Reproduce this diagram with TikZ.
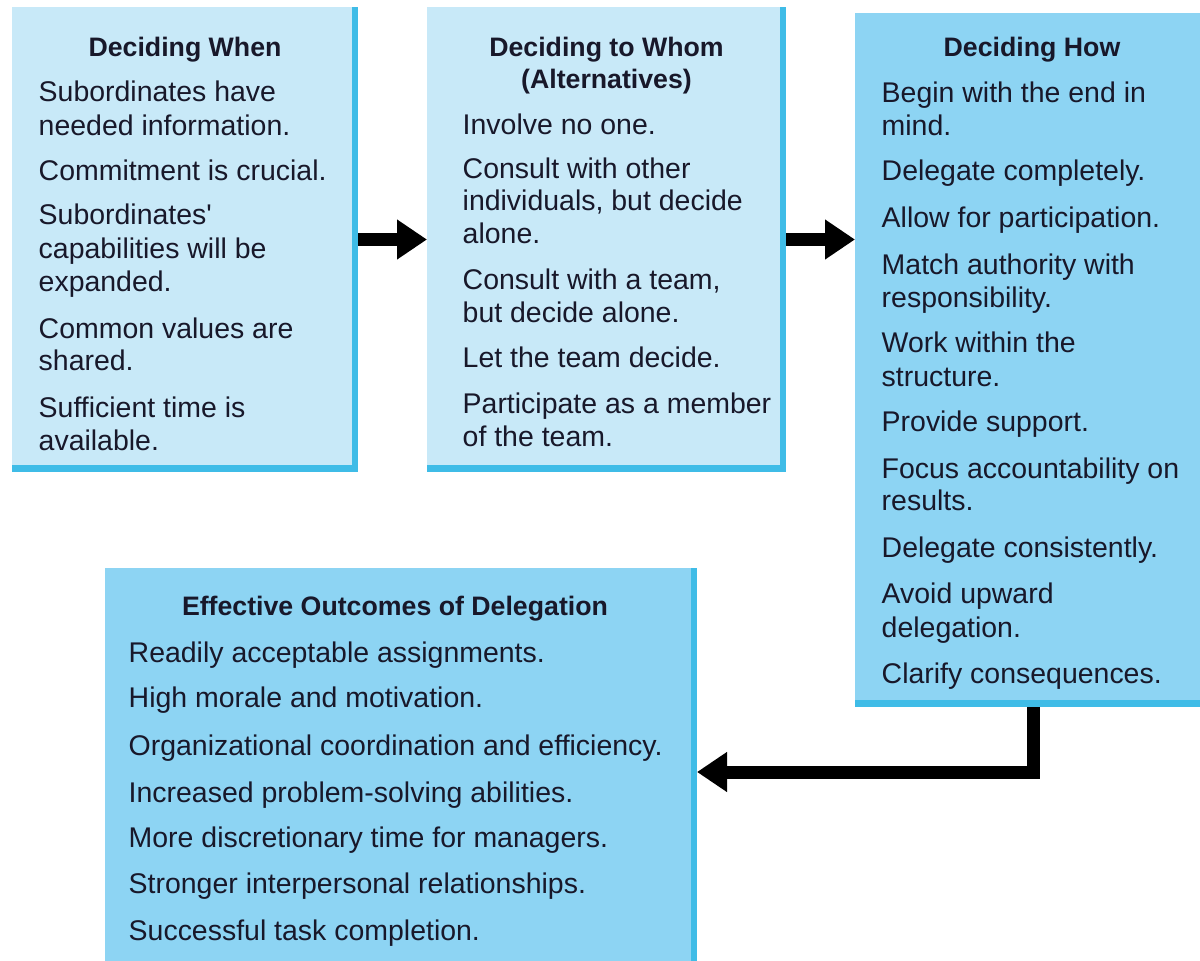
\documentclass[tikz,border=0pt]{standalone}
\usepackage{fontspec}
\setmainfont{Liberation Sans}
\usetikzlibrary{arrows.meta}

\definecolor{palefill}{HTML}{C8E9F8}
\definecolor{deepfill}{HTML}{8DD4F3}
\definecolor{rimblue}{HTML}{3FBCE7}
\definecolor{inktext}{HTML}{18182A}

\tikzset{
    box/.style={fill=rimblue, inner sep=0pt, outer sep=0pt, anchor=north west},
    head/.style={font=\fontsize{7.6}{9}\selectfont\bfseries, text=inktext, anchor=base, inner sep=0pt},
    item/.style={font=\fontsize{8.1}{9.7}\selectfont, text=inktext, anchor=base west, inner sep=0pt},
    flow/.style={line width=0.13cm, -{Triangle[length=0.3cm,width=0.38cm]}}
}

\begin{document}
\begin{tikzpicture}
    \useasboundingbox (0,0) rectangle (12,9.6);
    \clip (0,0) rectangle (12,9.6);

    % Deciding When
    \node[box, minimum width=3.46cm, minimum height=4.65cm] (when) at (0.12, 9.53) {};
    \fill[palefill] (when.north west) rectangle ([shift={(-0.06,0.07)}]when.south east);
    \node[head] (whenhead) at (1.85, 9.04) {Deciding When};
    \foreach \y/\txt [count=\n] in {8.59/Subordinates have, 8.25/needed information., 7.80/Commitment is crucial.,
            7.36/Subordinates\textquotesingle, 7.02/capabilities will be, 6.69/expanded.,
            6.22/Common values are, 5.90/shared., 5.43/Sufficient time is, 5.10/available.} {
        \node[item] (when\n) at (0.38, \y) {\txt};
    }

    % Deciding to Whom
    \node[box, minimum width=3.59cm, minimum height=4.65cm] (whom) at (4.27, 9.53) {};
    \fill[palefill] (whom.north west) rectangle ([shift={(-0.06,0.07)}]whom.south east);
    \node[head] (whomhead) at (6.065, 9.04) {Deciding to Whom};
    \node[head] (whomsub) at (6.065, 8.72) {(Alternatives)};
    \foreach \y/\txt [count=\n] in {8.26/Involve no one., 7.82/Consult with other, 7.50/{individuals, but decide},
            7.17/alone., 6.71/{Consult with a team,}, 6.38/but decide alone., 5.93/Let the team decide.,
            5.47/Participate as a member, 5.14/of the team.} {
        \node[item] (whom\n) at (4.62, \y) {\txt};
    }

    % Deciding How
    \node[box, minimum width=3.57cm, minimum height=6.94cm] (how) at (8.55, 9.47) {};
    \fill[deepfill] (how.north west) rectangle ([shift={(-0.06,0.07)}]how.south east);
    \node[head] (howhead) at (10.32, 9.04) {Deciding How};
    \foreach \y/\txt [count=\n] in {8.58/Begin with the end in, 8.25/mind., 7.80/Delegate completely.,
            7.33/Allow for participation., 6.86/Match authority with, 6.53/responsibility.,
            6.08/Work within the, 5.74/structure., 5.29/Provide support.,
            4.82/Focus accountability on, 4.50/results., 4.03/Delegate consistently.,
            3.57/Avoid upward, 3.23/delegation., 2.77/Clarify consequences.} {
        \node[item] (how\n) at (8.81, \y) {\txt};
    }

    % Effective Outcomes of Delegation
    \node[box, minimum width=5.92cm, minimum height=4.08cm] (outcome) at (1.05, 3.92) {};
    \fill[deepfill] (outcome.north west) rectangle ([shift={(-0.06,0.07)}]outcome.south east);
    \node[head] (outcomehead) at (3.95, 3.45) {Effective Outcomes of Delegation};
    \foreach \y/\txt [count=\n] in {2.98/Readily acceptable assignments., 2.53/High morale and motivation.,
            2.05/Organizational coordination and efficiency., 1.58/Increased problem-solving abilities.,
            1.13/More discretionary time for managers., 0.67/Stronger interpersonal relationships.,
            0.20/Successful task completion.} {
        \node[item] (outcome\n) at (1.28, \y) {\txt};
    }

    % Arrows
    \draw[flow] (when.east) -- (whom.west);
    \draw[flow] (whom.east) -- (whom.east -| how.west);
    \draw[flow] (how.south) |- (outcome.east);
\end{tikzpicture}
\end{document}
